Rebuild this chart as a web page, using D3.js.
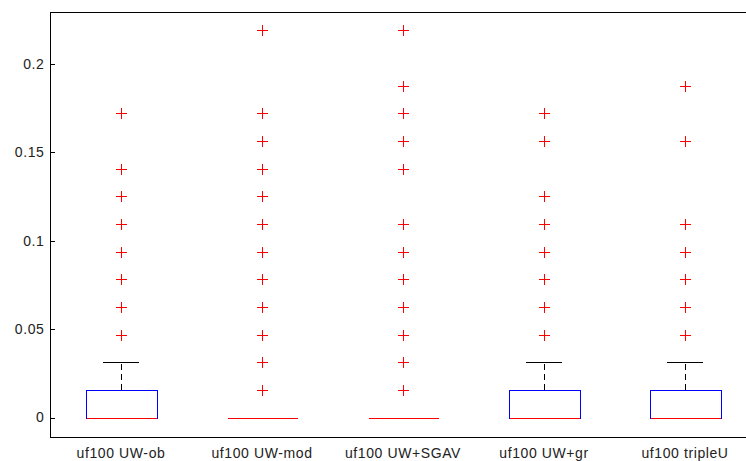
<!DOCTYPE html>
<html>
<head>
<meta charset="utf-8">
<script src="https://cdn.jsdelivr.net/npm/d3@7"></script>
<style>
  body { margin: 0; background: #fff; }
  svg { display: block; }
  text { font-family: "Liberation Sans", Arial, sans-serif; }
</style>
</head>
<body>
<div id="chart"></div>
<script>
// Group names along the x axis
var categories = ["uf100 UW-ob", "uf100 UW-mod", "uf100 UW+SGAV", "uf100 UW+gr", "uf100 tripleU"];

// Box statistics per group
var q1 = [0, 0, 0, 0, 0];
var median = [0, 0, 0, 0, 0];
var q3 = [0.015625, 0, 0, 0.015625, 0.015625];
var whiskerLow = [0, 0, 0, 0, 0];
var whiskerHigh = [0.03125, 0, 0, 0.03125, 0.03125];

// Outliers per group
var outliers = [
    [0.171875, 0.140625, 0.125, 0.109375, 0.09375, 0.078125, 0.0625, 0.046875],
    [0.21875, 0.171875, 0.15625, 0.140625, 0.125, 0.109375, 0.09375, 0.078125, 0.0625, 0.046875, 0.03125, 0.015625],
    [0.21875, 0.1875, 0.171875, 0.15625, 0.140625, 0.109375, 0.09375, 0.078125, 0.0625, 0.046875, 0.03125, 0.015625],
    [0.171875, 0.15625, 0.125, 0.109375, 0.09375, 0.078125, 0.0625, 0.046875],
    [0.1875, 0.15625, 0.109375, 0.09375, 0.078125, 0.0625, 0.046875]
];

var yTicks = [0, 0.05, 0.1, 0.15, 0.2];

var width = 746, height = 461;
var plot = { left: 50.5, right: 755.5, top: 12.5, bottom: 437.5 };

var svg = d3.select("#chart")
    .append("svg")
    .attr("width", width)
    .attr("height", height);

// x in group units, like matlab boxplot (0.5 .. n+0.5)
var xScale = d3.scaleLinear()
    .domain([0.5, categories.length + 0.5])
    .range([plot.left, plot.right]);

var yScale = d3.scaleLinear()
    .domain([-0.0113, 0.2289])
    .range([plot.bottom, plot.top]);

var boxHalf = 0.25, capHalf = 0.125;
var px = function (v) { return Math.round(v) + 0.5; };

var groups = categories.map(function (c, i) {
    return {
        name: c, pos: i + 1,
        q1: q1[i], med: median[i], q3: q3[i],
        lo: whiskerLow[i], hi: whiskerHigh[i],
        out: outliers[i]
    };
});

var g = svg.selectAll("g.box")
    .data(groups)
    .enter().append("g")
    .attr("class", "box")
    .attr("shape-rendering", "crispEdges");

// dashed whiskers
g.append("line")
    .attr("x1", function (d) { return px(xScale(d.pos)); })
    .attr("x2", function (d) { return px(xScale(d.pos)); })
    .attr("y1", function (d) { return yScale(d.q3); })
    .attr("y2", function (d) { return yScale(d.hi); })
    .attr("stroke", "#000")
    .attr("stroke-dasharray", "6,4");

// whisker caps
g.append("line")
    .attr("x1", function (d) { return xScale(d.pos - capHalf); })
    .attr("x2", function (d) { return xScale(d.pos + capHalf); })
    .attr("y1", function (d) { return px(yScale(d.hi)); })
    .attr("y2", function (d) { return px(yScale(d.hi)); })
    .attr("stroke", "#000");

g.append("line")
    .attr("x1", function (d) { return xScale(d.pos - capHalf); })
    .attr("x2", function (d) { return xScale(d.pos + capHalf); })
    .attr("y1", function (d) { return px(yScale(d.lo)); })
    .attr("y2", function (d) { return px(yScale(d.lo)); })
    .attr("stroke", "#000");

// boxes
g.append("rect")
    .attr("x", function (d) { return px(xScale(d.pos - boxHalf)); })
    .attr("y", function (d) { return px(yScale(d.q3)); })
    .attr("width", function (d) { return Math.round(xScale(d.pos + boxHalf) - xScale(d.pos - boxHalf)); })
    .attr("height", function (d) { return Math.round(yScale(d.q1) - yScale(d.q3)); })
    .attr("fill", "none")
    .attr("stroke", "#0000ff");

// medians
g.append("line")
    .attr("x1", function (d) { return px(xScale(d.pos - boxHalf)); })
    .attr("x2", function (d) { return px(xScale(d.pos + boxHalf)); })
    .attr("y1", function (d) { return px(yScale(d.med)); })
    .attr("y2", function (d) { return px(yScale(d.med)); })
    .attr("stroke", "#ff0000");

// outliers as red plus signs
var plusSize = 5.5;
g.selectAll("path.out")
    .data(function (d) { return d.out.map(function (v) { return { pos: d.pos, v: v }; }); })
    .enter().append("path")
    .attr("class", "out")
    .attr("d", function (d) {
        var cx = px(xScale(d.pos)), cy = px(yScale(d.v));
        return "M" + (cx - plusSize) + "," + cy + "H" + (cx + plusSize) +
            "M" + cx + "," + (cy - plusSize) + "V" + (cy + plusSize);
    })
    .attr("stroke", "#ff0000")
    .attr("fill", "none");

// frame
svg.append("rect")
    .attr("x", plot.left)
    .attr("y", plot.top)
    .attr("width", plot.right - plot.left)
    .attr("height", plot.bottom - plot.top)
    .attr("fill", "none")
    .attr("stroke", "#000")
    .attr("shape-rendering", "crispEdges");

// y axis, ticks inside
var yAxis = d3.axisLeft(yScale)
    .tickValues(yTicks)
    .tickSizeInner(-4)
    .tickSizeOuter(0)
    .tickPadding(6)
    .tickFormat(d3.format("~g"));

var ya = svg.append("g")
    .attr("transform", "translate(" + plot.left + ",0)")
    .call(yAxis);
ya.select(".domain").remove();
ya.selectAll("line").attr("shape-rendering", "crispEdges");
ya.selectAll("text")
    .attr("font-size", 14)
    .attr("letter-spacing", 0.6)
    .attr("font-family", "'Liberation Sans', Arial, sans-serif")
    .attr("fill", "#222");

// group labels below axis
svg.selectAll("text.cat")
    .data(groups)
    .enter().append("text")
    .attr("class", "cat")
    .attr("x", function (d) { return xScale(d.pos); })
    .attr("y", 458)
    .attr("text-anchor", "middle")
    .attr("font-size", 14)
    .attr("letter-spacing", 0.6)
    .attr("fill", "#222")
    .text(function (d) { return d.name; });
</script>
</body>
</html>
